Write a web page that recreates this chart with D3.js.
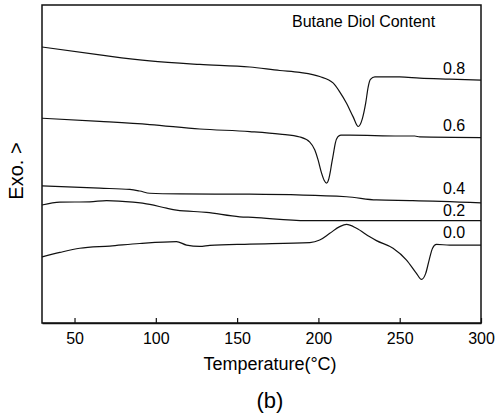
<!DOCTYPE html>
<html>
<head>
<meta charset="utf-8">
<script src="https://cdn.jsdelivr.net/npm/d3@7"></script>
<style>
  html, body { margin: 0; padding: 0; background: #fff; }
  svg { display: block; font-family: "Liberation Sans", Arial, sans-serif; }
</style>
</head>
<body>
<svg id="chart" width="500" height="414"></svg>
<script>
// ---- data (temperature °C, heat flow in arbitrary units) ----
const seriesLabels = ["0.8", "0.6", "0.4", "0.2", "0.0"];
const labelValues = [78.3, 60.5, 40.6, 33.6, 26.7];

const bd08 = [[30,86.8],[65.5,84.3],[96.3,82.4],[127,81.3],[157.8,80.5],[176.3,79.4],[188.6,78.8],[200.8,77.5],[209,75.5],[213.1,72.7],[217.3,69.1],[221.3,64.9],[224.5,61.8],[227,64.2],[229.1,69.2],[230.6,74.2],[232,76.6],[234.7,77.4],[250,77.4],[262.3,77.0],[280.7,76.7],[300,76.4]];
const bd06 = [[30,64.4],[65.5,63.4],[96.3,62.4],[127,61.0],[157.8,60.2],[176.3,59.4],[188.6,58.5],[194.7,56.9],[197.8,54.4],[199.8,51.3],[201.9,47.2],[203.6,44.8],[205,44.0],[206.4,45.3],[207.3,47.5],[208.2,50.3],[209.2,53.1],[210.4,56.6],[211.9,58.5],[213.8,59.1],[219.3,59.1],[250,58.8],[259.3,58.8],[262.3,58.5],[300,58.3]];
const bd04 = [[30,43.1],[65.5,42.4],[84,42.0],[90.1,41.5],[96.3,40.8],[114.7,40.6],[157.8,40.5],[217.3,39.7],[235.7,38.7],[258,38.5],[300,37.8]];
const bd02 = [[30,37.1],[41,38.0],[59.4,38.1],[69.7,38.5],[86,38.0],[96.3,37.3],[106.6,36.1],[112.7,35.5],[131.2,34.8],[151.6,33.4],[159.6,33.2],[192.7,32.2],[250,32.2],[300,32.2]];
const bd00 = [[30,20.8],[41,22.2],[53.2,23.5],[71.7,24.2],[90.1,25.0],[112.7,25.6],[118.9,24.5],[127,24.1],[133.2,24.4],[157.8,24.8],[194.7,25.3],[200.8,26.1],[207,28.2],[213.1,30.3],[217.3,31.0],[223.4,29.8],[231.6,27.1],[235.7,25.9],[245.9,23.5],[254.2,19.8],[260.3,15.6],[263.4,13.7],[266,15.6],[268.1,19.8],[270.2,23.5],[272.6,24.7],[280.7,24.5],[300,24.5]];
const allSeries = [bd08, bd06, bd04, bd02, bd00];

const xTicks = [50, 100, 150, 200, 250, 300];
const xDomain = [30, 300];
const yDomain = [0, 100];

// ---- layout ----
const L = 42, R = 481, T = 5, B = 323;
const svg = d3.select("#chart");

const x = d3.scaleLinear().domain(xDomain).range([L, R]);
const y = d3.scaleLinear().domain(yDomain).range([B, T]);

// frame
svg.append("rect")
  .attr("x", L).attr("y", T)
  .attr("width", R - L).attr("height", B - T)
  .attr("fill", "none").attr("stroke", "#111").attr("stroke-width", 1.5);

// x axis with inward ticks
const xAxis = d3.axisBottom(x).tickValues(xTicks).tickSizeInner(-5).tickSizeOuter(0).tickPadding(10);
const gx = svg.append("g").attr("transform", `translate(0,${B})`).call(xAxis);
gx.select(".domain").attr("stroke", "#111").attr("stroke-width", 1.5);
gx.selectAll(".tick line").attr("stroke", "#111").attr("stroke-width", 1.2);
gx.selectAll(".tick text")
  .attr("font-size", 16).attr("fill", "#000")
  .attr("font-family", "Liberation Sans, Arial, sans-serif");

// curves
const line = d3.line().x(d => x(d[0])).y(d => y(d[1])).curve(d3.curveMonotoneX);
svg.append("g").selectAll("path").data(allSeries).join("path")
  .attr("d", line)
  .attr("fill", "none")
  .attr("stroke", "#111")
  .attr("stroke-width", 1.2);

// series labels
svg.append("g").selectAll("text").data(seriesLabels).join("text")
  .attr("x", 443)
  .attr("y", (d, i) => y(labelValues[i]))
  .attr("font-size", 16)
  .attr("fill", "#000")
  .text(d => d);

// legend title
svg.append("text")
  .attr("x", 292).attr("y", 26.5)
  .attr("font-size", 16).attr("fill", "#000")
  .text("Butane Diol Content");

// axis titles
svg.append("text")
  .attr("x", 270).attr("y", 370)
  .attr("text-anchor", "middle")
  .attr("font-size", 18).attr("fill", "#000")
  .text("Temperature(\u00B0C)");

svg.append("text")
  .attr("x", 270).attr("y", 408)
  .attr("text-anchor", "middle")
  .attr("font-size", 22).attr("fill", "#000")
  .text("(b)");

svg.append("text")
  .attr("transform", "translate(23,171) rotate(-90)")
  .attr("text-anchor", "middle")
  .attr("font-size", 20).attr("fill", "#000")
  .text("Exo. >");
</script>
</body>
</html>
